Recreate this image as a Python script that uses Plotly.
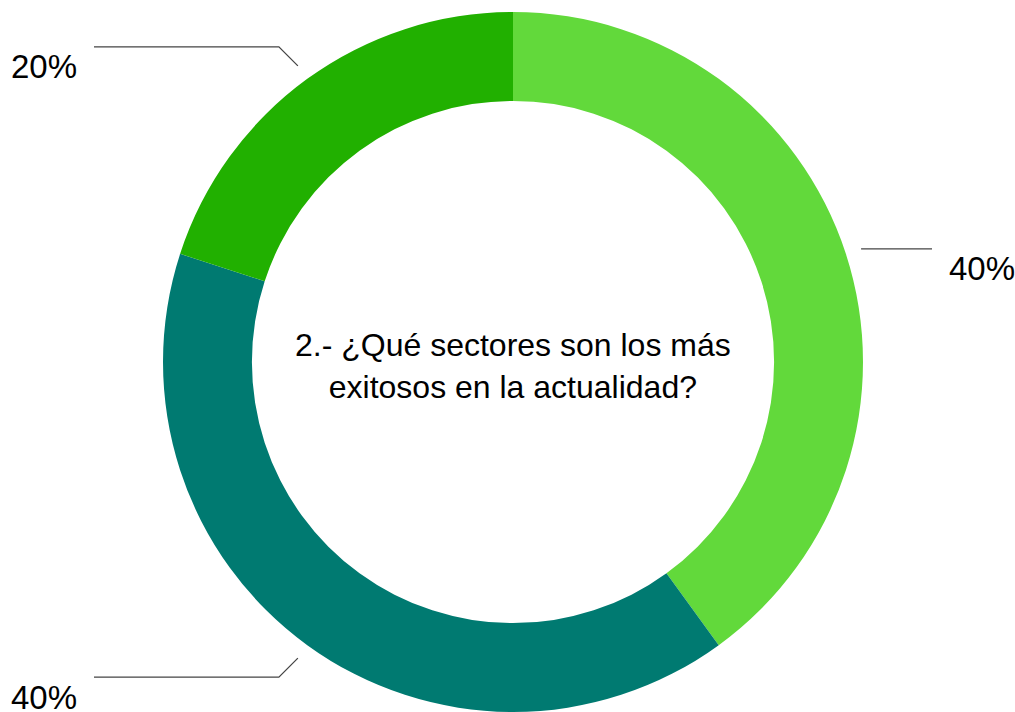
import math
import plotly.graph_objects as go

# Survey answers (share of responses, %)
sectors = ["Sector 1", "Sector 2", "Sector 3"]
shares = [40, 40, 20]
colors = ["#62D93B", "#007A71", "#21B000"]
question = "2.- ¿Qué sectores son los más<br>exitosos en la actualidad?"

W, H = 1015, 712
CX, CY, R = 513, 362, 350          # donut centre / outer radius in px
HOLE = 0.746

fig = go.Figure(go.Pie(
    labels=sectors,
    values=shares,
    hole=HOLE,
    sort=False,
    direction="clockwise",
    rotation=0,
    textinfo="none",
    hoverinfo="label+percent",
    marker=dict(colors=colors, line=dict(width=0)),
    domain=dict(x=[(CX - R) / W, (CX + R) / W], y=[0, 2 * R / H]),
    showlegend=False,
))


def px(x, y):
    return x / W, 1 - y / H


shapes, annotations = [], []
total = sum(shares)
cum = 0
LINE_R = R + 16        # radial start of each leader line
ARM = 419              # horizontal reach of leader lines from centre
for v in shares:
    mid = (cum + v / 2) / total * 2 * math.pi
    cum += v
    dx, dy = math.sin(mid), -math.cos(mid)
    x0, y0 = CX + LINE_R * dx, CY + LINE_R * dy
    side = 1 if dx >= 0 else -1
    pts = [(x0, y0)]
    if abs(dy) > 0.5:
        elbow = 19
        x1, y1 = x0 + side * elbow, y0 + (elbow if dy > 0 else -elbow)
        pts.append((x1, y1))
    ly = pts[-1][1]
    xe = CX + side * ARM
    pts.append((xe, ly))
    path = "M " + " L ".join(f"{px(a, b)[0]},{px(a, b)[1]}" for a, b in pts)
    shapes.append(dict(type="path", path=path, xref="paper", yref="paper",
                       line=dict(color="#444444", width=1.3)))
    tx, ty = px(xe + side * 15, ly + 20)
    annotations.append(dict(
        x=tx, y=ty, xref="paper", yref="paper",
        text=f"{round(v / total * 100)}%", showarrow=False,
        xanchor="left" if side > 0 else "right", yanchor="middle",
        font=dict(family="Liberation Sans, Arial, sans-serif", size=33, color="#000000"),
    ))

cx, cy = px(CX, 366)
annotations.append(dict(
    x=cx, y=cy, xref="paper", yref="paper", text=question, showarrow=False,
    xanchor="center", yanchor="middle", align="center",
    font=dict(family="Liberation Sans, Arial, sans-serif", size=32, color="#000000"),
))

fig.update_layout(
    width=W, height=H,
    margin=dict(l=0, r=0, t=0, b=0),
    paper_bgcolor="white", plot_bgcolor="white",
    shapes=shapes, annotations=annotations,
)

fig.write_html("out.html")
